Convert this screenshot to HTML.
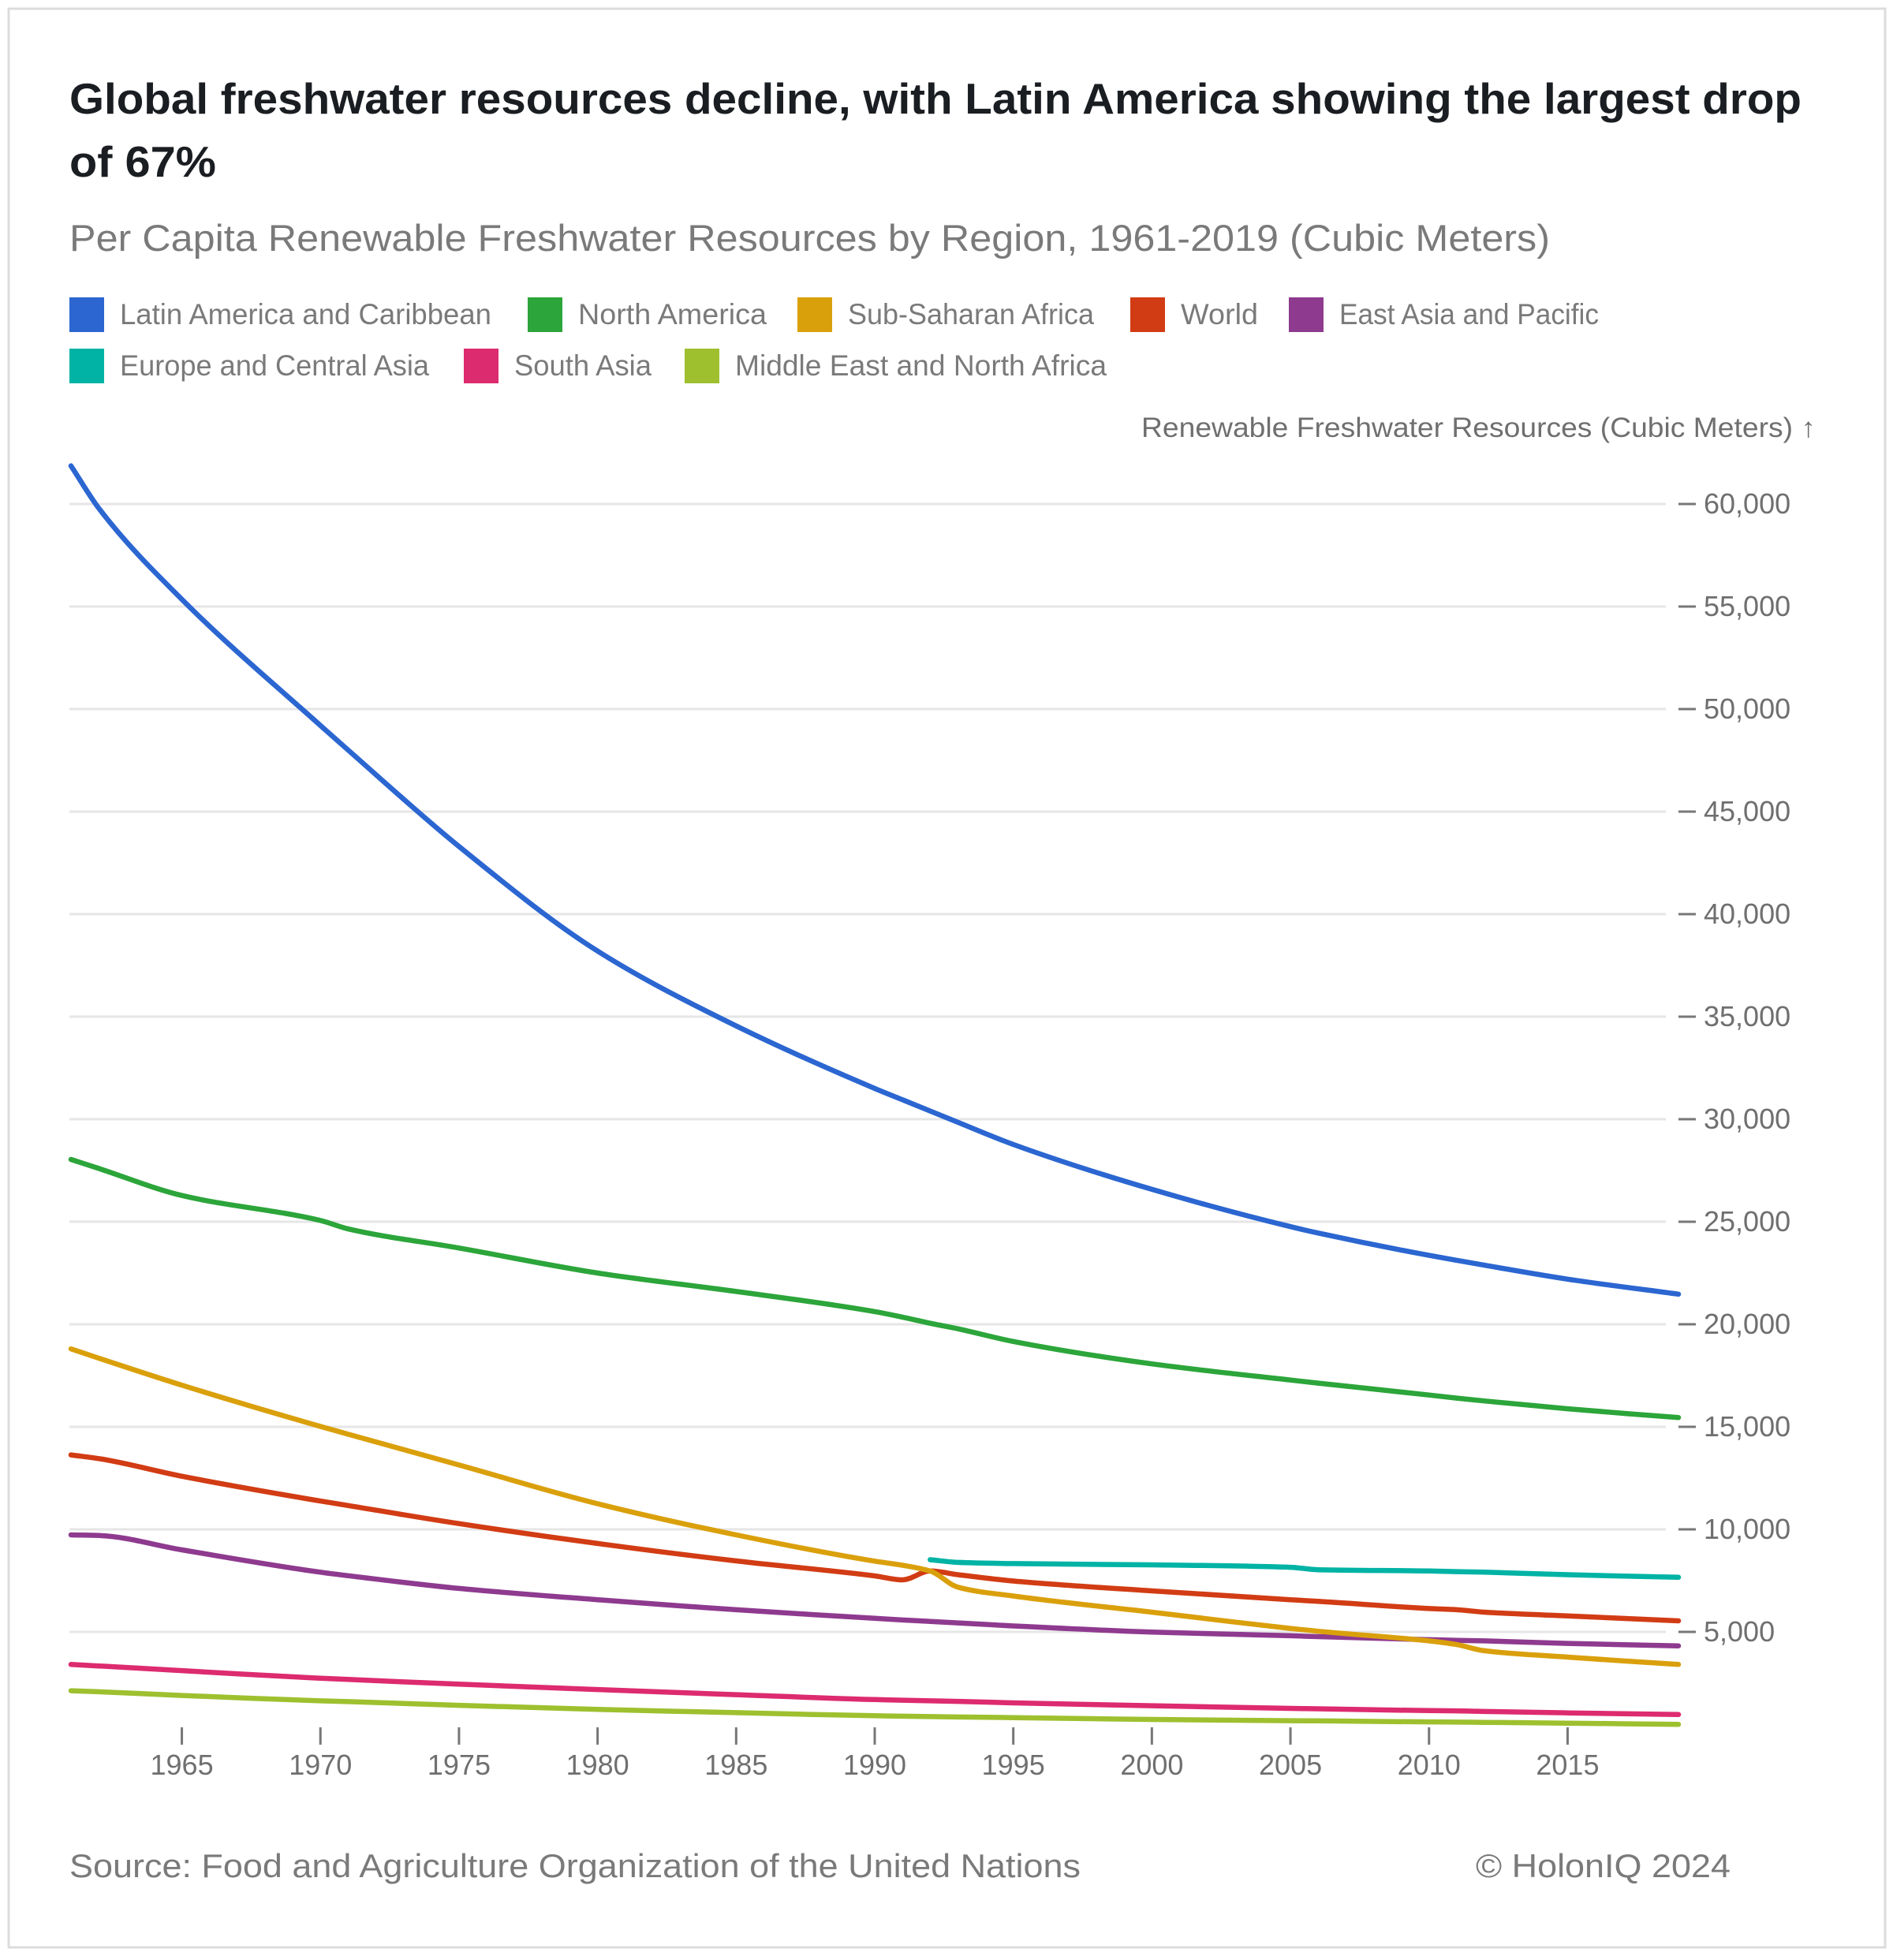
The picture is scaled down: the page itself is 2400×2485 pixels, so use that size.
<!DOCTYPE html>
<html><head><meta charset="utf-8">
<style>
html,body{margin:0;padding:0;background:#fff;}
body{width:2400px;height:2480px;overflow:hidden;font-family:"Liberation Sans",sans-serif;}
svg text{font-family:"Liberation Sans",sans-serif;}
</style></head>
<body>
<svg id="chart" width="2400" height="2480" viewBox="0 0 2400 2480">
<rect x="11" y="11" width="2379" height="2458" fill="#fff" stroke="#dcdcdc" stroke-width="3"/>
<text x="88" y="144" font-size="55" font-weight="bold" fill="#1a1d21" textLength="2196" lengthAdjust="spacingAndGlyphs">Global freshwater resources decline, with Latin America showing the largest drop</text>
<text x="88" y="224" font-size="55" font-weight="bold" fill="#1a1d21" textLength="186" lengthAdjust="spacingAndGlyphs">of 67%</text>
<text x="88" y="318" font-size="47" fill="#7a7a7a" textLength="1877" lengthAdjust="spacingAndGlyphs">Per Capita Renewable Freshwater Resources by Region, 1961-2019 (Cubic Meters)</text>
<g id="legend"></g>
<text x="2302" y="554" font-size="35" fill="#6f6f6f" text-anchor="end" textLength="855" lengthAdjust="spacingAndGlyphs">Renewable Freshwater Resources (Cubic Meters) ↑</text>
<g id="grid"></g>
<g id="yaxis"></g>
<g id="xaxis"></g>
<g id="series"></g>
<text x="88" y="2380" font-size="42" fill="#7a7a7a" textLength="1282" lengthAdjust="spacingAndGlyphs">Source: Food and Agriculture Organization of the United Nations</text>
<text x="2194" y="2380" font-size="42" fill="#7a7a7a" text-anchor="end" textLength="323" lengthAdjust="spacingAndGlyphs">© HolonIQ 2024</text>
</svg>
<script>
const years = [1961,1962,1965,1970,1971,1975,1980,1985,1990,1991,1992,1993,1995,2000,2005,2006,2010,2011,2012,2015,2019];
const latinAmerica = [61860,59800,55350,49200,48000,43300,38200,34550,31500,30950,30400,29850,28770,26580,24760,24450,23360,23120,22880,22200,21470];
const northAmerica = [28040,27600,26280,25060,24650,23720,22500,21600,20620,20350,20050,19780,19160,18070,17280,17130,16550,16400,16260,15880,15450];
const subSaharan = [18800,18350,17030,15020,14640,13140,11250,9730,8450,8250,7970,7180,6750,5960,5170,5030,4560,4380,4080,3770,3410];
const world = [13630,13450,12590,11380,11160,10280,9310,8460,7730,7540,7970,7790,7480,7000,6570,6490,6140,6080,5960,5780,5540];
const eastAsia = [9730,9700,9000,7910,7740,7120,6570,6080,5660,5580,5510,5440,5290,4990,4810,4770,4620,4590,4560,4440,4320];
const europe = [null,null,null,null,null,null,null,null,null,null,8520,8390,8330,8270,8150,8030,7970,7940,7910,7790,7660];
const southAsia = [3410,3340,3110,2740,2680,2450,2190,1940,1700,1670,1640,1610,1540,1400,1270,1250,1160,1150,1120,1050,970];
const mena = [2130,2080,1900,1640,1600,1420,1220,1060,910,890,870,850,820,730,670,660,610,600,590,550,490];
const yTicks = [5000,10000,15000,20000,25000,30000,35000,40000,45000,50000,55000,60000];
const yTickLabels = ["5,000","10,000","15,000","20,000","25,000","30,000","35,000","40,000","45,000","50,000","55,000","60,000"];
const xTicks = [1965,1970,1975,1980,1985,1990,1995,2000,2005,2010,2015];
const seriesNames = ["Latin America and Caribbean","North America","Sub-Saharan Africa","World","East Asia and Pacific","Europe and Central Asia","South Asia","Middle East and North Africa"];
const seriesData = [latinAmerica,northAmerica,subSaharan,world,eastAsia,europe,southAsia,mena];
const seriesColors = ["#2b66d1","#2ca53a","#daa00c","#d23c14","#8e3a8f","#00b3a5","#dd2b6f","#9ec02f"];

const NS = "http://www.w3.org/2000/svg";
const X0 = 90, X1 = 2128, Y0 = 2199, YPER = 0.026;
function xs(yr){ return X0 + (yr-1961)*(X1-X0)/(2019-1961); }
function ys(v){ return Y0 - v*YPER; }
function mk(tag, attrs, parent){ const e=document.createElementNS(NS,tag); for(const k in attrs) e.setAttribute(k,attrs[k]); parent.appendChild(e); return e; }

function monotonePath(pts){
  const n=pts.length; if(n<2) return '';
  const dx=[],m=[],t=[];
  for(let i=0;i<n-1;i++){ dx[i]=pts[i+1][0]-pts[i][0]; m[i]=(pts[i+1][1]-pts[i][1])/dx[i]; }
  t[0]=m[0]; t[n-1]=m[n-2];
  for(let i=1;i<n-1;i++){ if(m[i-1]*m[i]<=0) t[i]=0; else { const w1=2*dx[i]+dx[i-1], w2=dx[i]+2*dx[i-1]; t[i]=(w1+w2)/(w1/m[i-1]+w2/m[i]); } }
  let d='M'+pts[0][0].toFixed(1)+','+pts[0][1].toFixed(1);
  for(let i=0;i<n-1;i++){
    const h=dx[i]/3;
    d+='C'+(pts[i][0]+h).toFixed(1)+','+(pts[i][1]+t[i]*h).toFixed(1)+' '+(pts[i+1][0]-h).toFixed(1)+','+(pts[i+1][1]-t[i+1]*h).toFixed(1)+' '+pts[i+1][0].toFixed(1)+','+pts[i+1][1].toFixed(1);
  }
  return d;
}

const grid=document.getElementById('grid'), yaxis=document.getElementById('yaxis'), xaxis=document.getElementById('xaxis');
yTicks.forEach((v,i)=>{
  const g=mk('line',{x1:88,x2:2112,y1:ys(v),y2:ys(v),stroke:'#e6e6e6','stroke-width':3},grid);
  
  
  const t=mk('line',{x1:2128,x2:2150,y1:ys(v),y2:ys(v),stroke:'#777','stroke-width':3},yaxis);
  
  
  const l=mk('text',{x:2160,y:ys(v)+12,'font-size':36,fill:'#6f6f6f'},yaxis);
  l.textContent=yTickLabels[i];
  
  
});
xTicks.forEach(yr=>{
  const t=mk('line',{x1:xs(yr),x2:xs(yr),y1:2190,y2:2212,stroke:'#777','stroke-width':3},xaxis);
  
  
  const l=mk('text',{x:xs(yr),y:2250,'font-size':36,fill:'#6f6f6f','text-anchor':'middle'},xaxis);
  l.textContent=yr;
  
  
});
const sg=document.getElementById('series');
for(let s=seriesData.length-1;s>=0;s--){
  const d=seriesData[s]; const pts=[];
  d.forEach((v,i)=>{ if(v==null) return; pts.push([xs(years[i]),ys(v)]); });
  const path=mk('path',{d:monotonePath(pts),fill:'none',stroke:seriesColors[s],'stroke-width':6.5,'stroke-linejoin':'round','stroke-linecap':'round'},sg);
  
  
}
const legendPos=[[88,399],[669,399],[1011,399],[1433,399],[1634,399],[88,464],[588,464],[868,464]];
const legendWidths=[471,239,312,98,329,392,174,471];
const lg=document.getElementById('legend');
seriesNames.forEach((n,i)=>{
  const [x,y]=legendPos[i];
  const r=mk('rect',{x:x,y:y-22,width:44,height:44,fill:seriesColors[i]},lg);
  
  
  const t=mk('text',{x:x+64,y:y+12,'font-size':37,fill:'#7a7a7a',textLength:legendWidths[i],lengthAdjust:'spacingAndGlyphs'},lg);
  t.textContent=n;
  
  
});
</script>
</body></html>
